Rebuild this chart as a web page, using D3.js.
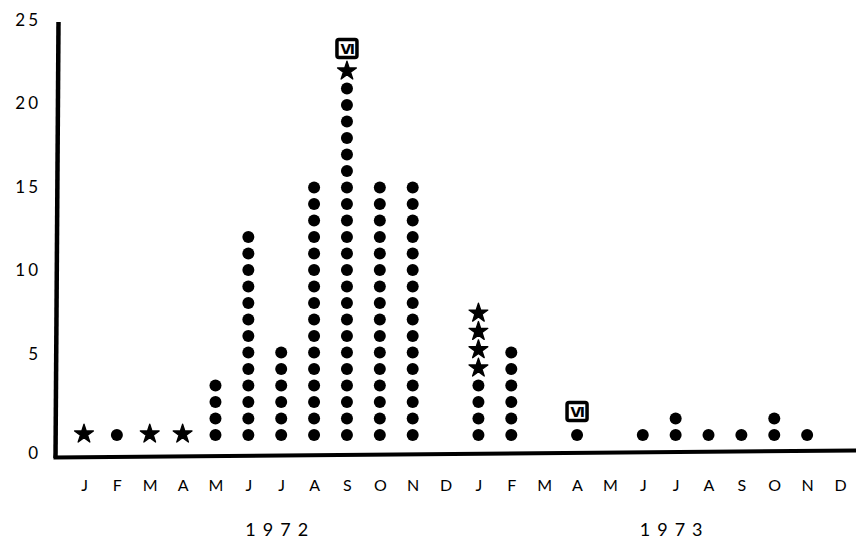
<!DOCTYPE html>
<html><head><meta charset="utf-8">
<script src="https://cdn.jsdelivr.net/npm/d3@7"></script>
<style>body{margin:0;background:#fff}svg{display:block}</style>
</head><body>
<script>
// ---- data ----
const months = ["J","F","M","A","M","J","J","A","S","O","N","D","J","F","M","A","M","J","J","A","S","O","N","D"];
const years = ["1972","1973"];
const dotCounts  = [0,1,0,0,4,13,6,16,22,16,16,0, 4,6,0,1,0,1,2,1,1,2,1,0];
const starCounts = [1,0,1,1,0,0,0,0,1,0,0,0, 4,0,0,0,0,0,0,0,0,0,0,0];
const viMarks    = [0,0,0,0,0,0,0,0,1,0,0,0, 0,0,0,1,0,0,0,0,0,0,0,0];
const yTicks = [0,5,10,15,20,25];

// ---- layout ----
const W = 856, H = 542;
const FONT = "Lato, 'Open Sans', sans-serif";
const svg = d3.select("body").append("svg").attr("width", W).attr("height", H);

const x = d3.scalePoint().domain(d3.range(months.length)).range([84, 840]);
const y = d3.scaleLinear().domain([0, 25]).range([451.5, 39]);
const yTick = d3.scaleLinear().domain([0, 5, 25]).range([452, 353, 19]);

// build symbol list
const marks = [];
months.forEach((m, i) => {
  let lvl = 0;
  for (let k = 0; k < dotCounts[i]; k++) marks.push({i, level: ++lvl, type: "dot"});
  for (let k = 0; k < starCounts[i]; k++) marks.push({i, level: ++lvl, si: k, type: "star"});
  if (viMarks[i]) marks.push({i, level: ++lvl, type: "vi"});
});

// axes lines (hand-drawn look)
svg.append("path").attr("d", "M58.5,22 L55.5,458").attr("stroke", "#000").attr("stroke-width", 4.5).attr("fill", "none");
svg.append("path").attr("d", "M53.5,457.5 L856,450.5").attr("stroke", "#000").attr("stroke-width", 4).attr("fill", "none");

// y tick labels
const gy = svg.append("g").attr("transform", "translate(41,0)")
  .call(d3.axisLeft(yTick).tickValues(yTicks).tickSize(0).tickPadding(0));
gy.select(".domain").remove();
gy.selectAll("text").attr("font-family", FONT).attr("font-size", 17).attr("font-weight", 400)
  .style("-webkit-text-stroke", "0.7px #000")
  .attr("letter-spacing", "3px").attr("fill", "#000").attr("dy", "0.36em");

// month labels
const gx = svg.append("g").attr("transform", "translate(0,479)")
  .call(d3.axisBottom(x).tickFormat(i => months[i]).tickSize(0).tickPadding(1));
gx.select(".domain").remove();
gx.selectAll("text").attr("font-family", FONT).attr("font-size", 16).attr("font-weight", 400)
  .style("-webkit-text-stroke", "0.7px #000").attr("fill", "#000");

// year labels
svg.selectAll("text.year").data(years).enter().append("text")
  .attr("class", "year")
  .attr("x", (d, k) => x(k * 12 + 5) - 3)
  .attr("y", 536)
  .attr("font-family", FONT).attr("font-size", 18).attr("font-weight", 400)
  .style("-webkit-text-stroke", "0.7px #000")
  .attr("letter-spacing", "7px").attr("fill", "#000")
  .text(d => d);

// dots
svg.selectAll("circle.case").data(marks.filter(d => d.type === "dot")).enter().append("circle")
  .attr("class", "case")
  .attr("cx", d => x(d.i)).attr("cy", d => y(d.level)).attr("r", 6).attr("fill", "#000");

// stars
const star = d3.symbol().type(d3.symbolStar).size(110);
svg.selectAll("path.star").data(marks.filter(d => d.type === "star")).enter().append("path")
  .attr("class", "star")
  .attr("transform", d => `translate(${x(d.i)},${y(d.level) - 1 - d.si * 1.8})`)
  .attr("d", star).attr("fill", "#000")
  .attr("stroke", "#000").attr("stroke-width", 1.3).attr("stroke-linejoin", "round");

// VI boxes
const vi = svg.selectAll("g.vi").data(marks.filter(d => d.type === "vi")).enter().append("g")
  .attr("class", "vi")
  .attr("transform", d => `translate(${x(d.i)},${y(d.level) - 7})`);
vi.append("rect").attr("x", -10).attr("y", -9).attr("width", 20).attr("height", 18).attr("rx", 2)
  .attr("fill", "#fff").attr("stroke", "#000").attr("stroke-width", 3.5);
vi.append("text").attr("text-anchor", "middle").attr("y", 5.5)
  .attr("font-family", "'DejaVu Sans', sans-serif").attr("font-size", 14).attr("font-weight", 700)
  .attr("fill", "#000").attr("letter-spacing", "-1.5px").text("VI");
</script>
</body></html>
